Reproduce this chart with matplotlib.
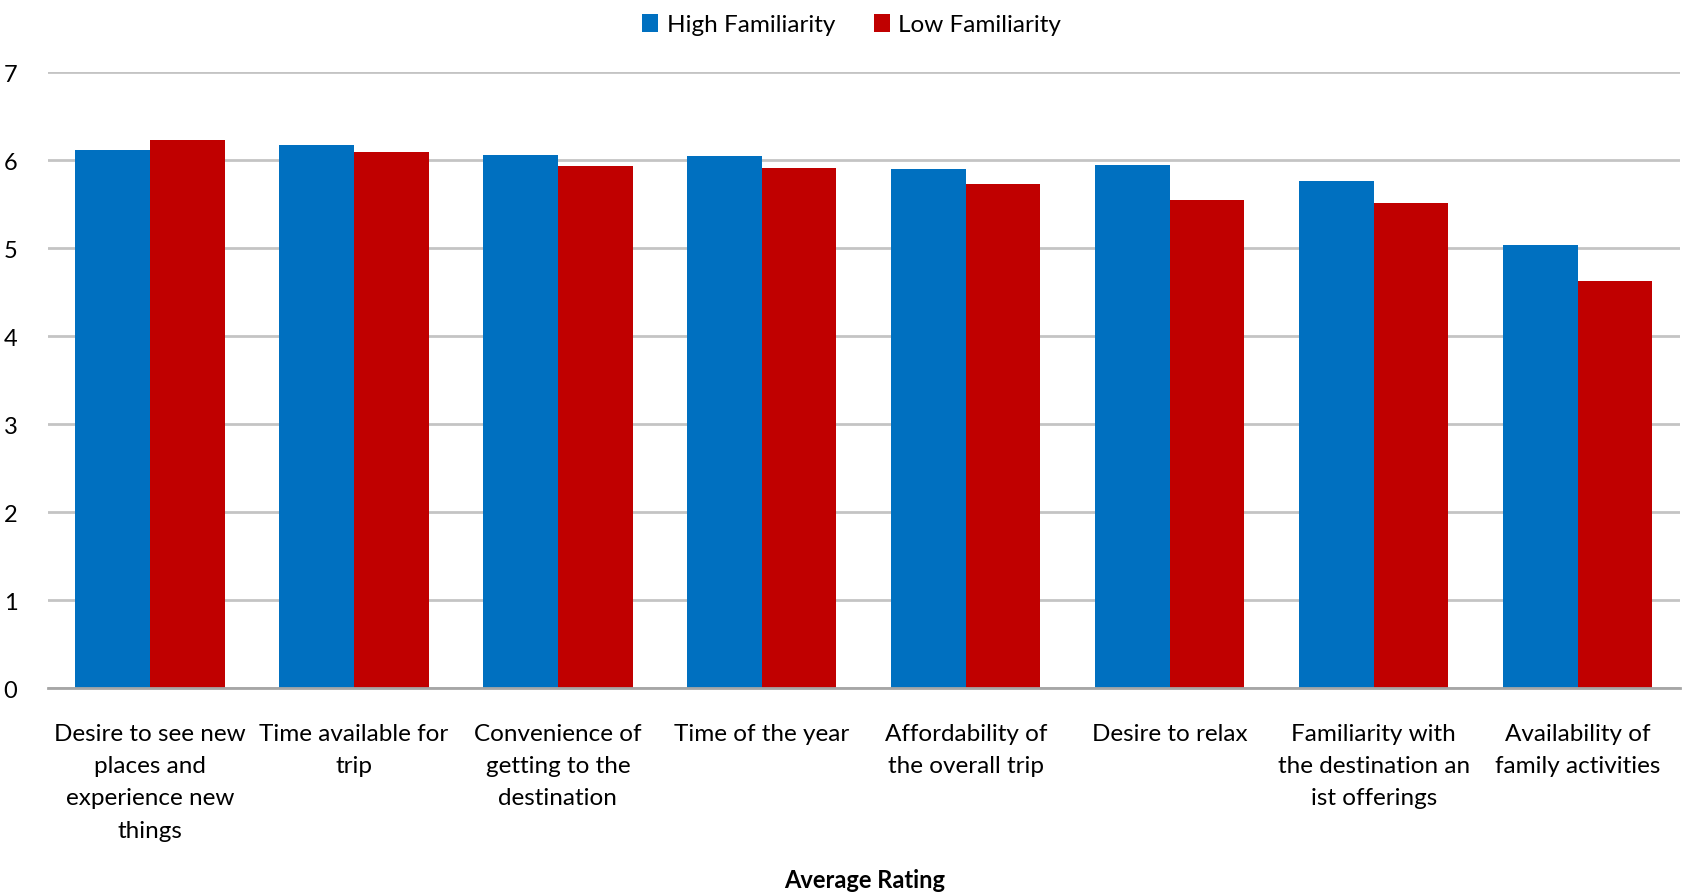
import matplotlib.pyplot as plt
import numpy as np

plt.rcParams["font.family"] = ["Lato", "DejaVu Sans"]

# category labels, line breaks as in the original chart
categories = [
    "Desire to see new\nplaces and\nexperience new\nthings",
    "Time available for\ntrip",
    "Convenience of\ngetting to the\ndestination",
    "Time of the year",
    "Affordability of\nthe overall trip",
    "Desire to relax",
    "Familiarity with\nthe destination an\nist offerings",
    "Availability of\nfamily activities",
]
high_fam = [6.12, 6.17, 6.06, 6.05, 5.90, 5.95, 5.76, 5.04]
low_fam = [6.23, 6.09, 5.94, 5.91, 5.73, 5.55, 5.51, 4.63]
y_ticks = [0, 1, 2, 3, 4, 5, 6, 7]

blue = "#0070C0"
red = "#C00000"

fig = plt.figure(figsize=(16.83, 8.95), dpi=100)
ax = fig.add_axes([0.0285, 0.230, 0.9695, 0.688])

x = np.arange(len(categories))
w = 0.366
ax.bar(x - w / 2, high_fam, w, color=blue, label="High Familiarity", zorder=3)
ax.bar(x + w / 2, low_fam, w, color=red, label="Low Familiarity", zorder=3)

ax.set_xlim(-0.5, len(categories) - 0.5)
ax.set_ylim(0, 7)
ax.set_yticks(y_ticks)
ax.set_yticklabels([str(t) for t in y_ticks], fontsize=17)
ax.set_xticks(x)
ax.set_xticklabels(categories, fontsize=17.5, linespacing=1.66, va="top")
ax.tick_params(axis="both", length=0)
ax.tick_params(axis="x", pad=25)
ax.tick_params(axis="y", pad=22)

ax.grid(axis="y", color="#c4c4c4", linewidth=2, zorder=0)
for s in ["top", "right", "left"]:
    ax.spines[s].set_visible(False)
ax.spines["bottom"].set_color("#a6a6a6")
ax.spines["bottom"].set_linewidth(2)
ax.spines["bottom"].set_zorder(4)

fig.text(0.514, 0.003, "Average Rating", ha="center", va="bottom",
         fontsize=17, fontweight="bold")

fig.legend(loc="upper center", bbox_to_anchor=(0.506, 1.008), ncol=2,
           frameon=False, fontsize=17.5, handlelength=0.65, handleheight=0.75,
           handletextpad=0.35, columnspacing=1.6)

fig.savefig("out.png", dpi=100)
